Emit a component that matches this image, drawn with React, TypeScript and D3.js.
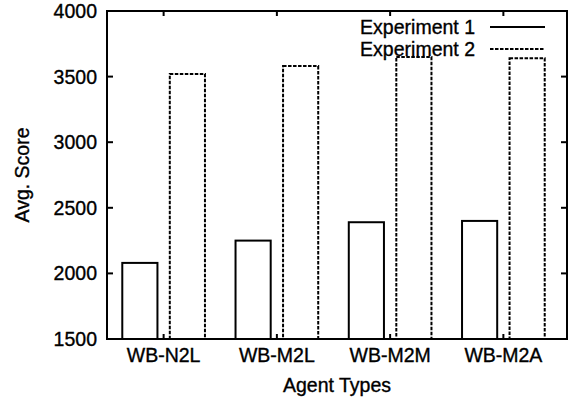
import React from "react";
import { scaleBand, scaleLinear } from "d3";

const categories = ["WB-N2L", "WB-M2L", "WB-M2M", "WB-M2A"];
const seriesNames = ["Experiment 1", "Experiment 2"];
const experiment1 = [2080, 2250, 2390, 2400];
const experiment2 = [3520, 3580, 3650, 3640];
const yTicks = [1500, 2000, 2500, 3000, 3500, 4000];

const W = 569;
const H = 411;
const left = 107;
const right = 567;
const top = 11;
const bottom = 339;
const font = "'Liberation Sans', Arial, Helvetica, sans-serif";
const dash = "3.5,1.5";
// scanned text looks a bit heavier than plain regular
const textStyle = { fontSize: 19.5, fill: "#000", stroke: "#000", strokeWidth: 0.35 };

export default function App() {
  const x0 = scaleBand<string>()
    .domain(categories)
    .range([left, 560])
    .paddingInner(0.27)
    .paddingOuter(0.135);
  const x1 = scaleBand<string>()
    .domain(seriesNames)
    .range([0, x0.bandwidth()])
    .paddingInner(0.26);
  const y = scaleLinear().domain([1500, 4000]).range([bottom, top]);

  const series = [experiment1, experiment2];

  return (
    <svg
      width={W}
      height={H}
      style={{ position: "absolute", left: 0, top: 0, background: "#fff" }}
      fontFamily={font}
    >
      <rect width={W} height={H} fill="#fff" />
      {/* bars */}
      {categories.map((c, i) => (
        <g key={c} transform={`translate(${x0(c)},0)`}>
          {series.map((vals, s) => (
            <rect
              key={s}
              x={x1(seriesNames[s])}
              y={y(vals[i])}
              width={x1.bandwidth()}
              height={bottom - y(vals[i])}
              fill="none"
              stroke="#000"
              strokeWidth={2}
              strokeDasharray={s === 1 ? dash : undefined}
            />
          ))}
        </g>
      ))}

      {/* frame */}
      <rect
        x={left}
        y={top}
        width={right - left}
        height={bottom - top}
        fill="none"
        stroke="#000"
        strokeWidth={2}
      />

      {/* y ticks */}
      {yTicks.map((t) => (
        <g key={t}>
          <line x1={left} x2={left + 6} y1={y(t)} y2={y(t)} stroke="#000" strokeWidth={2} />
          <line x1={right - 6} x2={right} y1={y(t)} y2={y(t)} stroke="#000" strokeWidth={2} />
          <text x={97} y={y(t)} dy="0.36em" textAnchor="end" style={textStyle}>
            {t}
          </text>
        </g>
      ))}

      {/* x ticks */}
      {categories.map((c) => {
        const cx = (x0(c) as number) + x0.bandwidth() / 2;
        return (
          <g key={c}>
            <line x1={cx} x2={cx} y1={bottom} y2={bottom - 5} stroke="#000" strokeWidth={2} />
            <line x1={cx} x2={cx} y1={top} y2={top + 5} stroke="#000" strokeWidth={2} />
            <text x={cx} y={362} textAnchor="middle" style={textStyle}>
              {c}
            </text>
          </g>
        );
      })}

      {/* axis titles */}
      <text x={337} y={392} textAnchor="middle" style={textStyle}>
        Agent Types
      </text>
      <text
        transform={`translate(29,${(top + bottom) / 2}) rotate(-90)`}
        textAnchor="middle"
        style={textStyle}
      >
        Avg. Score
      </text>

      {/* legend */}
      {seriesNames.map((n, s) => (
        <g key={n}>
          <text x={475} y={34 + s * 22} textAnchor="end" style={textStyle}>
            {n}
          </text>
          <line
            x1={490}
            x2={545}
            y1={27 + s * 22}
            y2={27 + s * 22}
            stroke="#000"
            strokeWidth={2}
            strokeDasharray={s === 1 ? dash : undefined}
          />
        </g>
      ))}
    </svg>
  );
}
